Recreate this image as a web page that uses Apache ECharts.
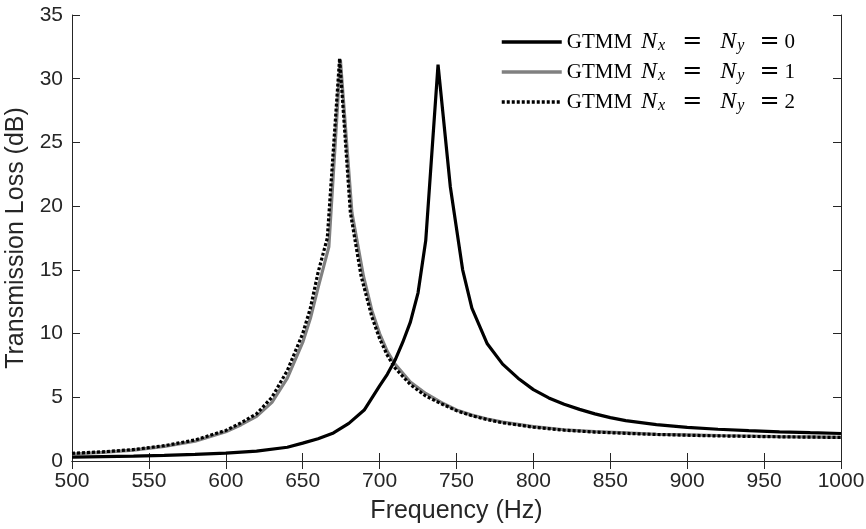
<!DOCTYPE html>
<html>
<head>
<meta charset="utf-8">
<script src="https://cdn.jsdelivr.net/npm/echarts@6/dist/echarts.min.js"></script>
<style>html,body{margin:0;padding:0;background:#fff}#c{width:866px;height:529px}</style>
</head>
<body>
<div id="c"></div>
<script>
// ---- data ----
const seriesNames = ['GTMM N_x = N_y = 0', 'GTMM N_x = N_y = 1', 'GTMM N_x = N_y = 2'];
const xTicks = [500, 550, 600, 650, 700, 750, 800, 850, 900, 950, 1000];
const yTicks = [0, 5, 10, 15, 20, 25, 30, 35];

const freq0 = [500, 520, 540, 560, 580, 600, 620, 640, 650, 660, 670, 680, 690, 700, 705, 710, 715, 720, 725, 730, 738, 746, 754, 760, 770, 780, 790, 800, 810, 820, 830, 840, 850, 860, 880, 900, 920, 940, 960, 980, 1000];
const tl0   = [0.30, 0.34, 0.38, 0.44, 0.52, 0.62, 0.78, 1.08, 1.40, 1.75, 2.20, 2.95, 4.0, 5.9, 6.8, 7.9, 9.3, 10.9, 13.2, 17.3, 31.1, 21.5, 15.0, 12.0, 9.2, 7.6, 6.5, 5.6, 4.95, 4.45, 4.05, 3.7, 3.4, 3.17, 2.86, 2.64, 2.49, 2.38, 2.29, 2.22, 2.16];

const freq1 = [500, 520, 540, 560, 580, 600, 610, 620, 630, 640, 650, 655, 660, 667, 674.5, 682, 689.5, 695, 700, 705, 710, 720, 730, 740, 750, 760, 770, 780, 800, 820, 840, 860, 880, 900, 920, 940, 960, 980, 1000];
const tl1   = [0.55, 0.68, 0.85, 1.15, 1.55, 2.3, 2.85, 3.5, 4.6, 6.5, 9.3, 11.2, 13.6, 16.8, 31.5, 19.5, 14.5, 11.8, 10.0, 8.6, 7.6, 6.2, 5.3, 4.6, 4.0, 3.6, 3.3, 3.05, 2.7, 2.45, 2.3, 2.2, 2.1, 2.05, 2.0, 1.96, 1.92, 1.89, 1.86];

const freq2 = [500, 520, 540, 560, 580, 600, 610, 620, 630, 640, 650, 655, 660, 666, 674, 681, 688, 695, 700, 705, 710, 720, 730, 740, 750, 760, 770, 780, 800, 820, 840, 860, 880, 900, 920, 940, 960, 980, 1000];
const tl2   = [0.60, 0.72, 0.90, 1.2, 1.65, 2.4, 3.0, 3.7, 5.0, 7.1, 10.0, 12.0, 14.8, 17.5, 31.6, 19.5, 14.5, 11.3, 9.6, 8.3, 7.3, 6.0, 5.1, 4.5, 3.95, 3.55, 3.25, 3.0, 2.65, 2.42, 2.27, 2.17, 2.08, 2.02, 1.97, 1.93, 1.90, 1.87, 1.85];

// ---- chart ----
const axisCol = '#262626';
const sans = 'Liberation Sans, Arial, Helvetica, sans-serif';
const serif = 'Liberation Serif, Times New Roman, serif';
const eqFont = 'DejaVu Serif, serif';
const pairs = (f, v) => f.map((x, i) => [x, v[i]]);

const chart = echarts.init(document.getElementById('c'), null, {renderer: 'canvas'});
const common = {
  axisLine: {show: true, lineStyle: {color: axisCol, width: 1}},
  axisTick: {show: true, inside: true, length: 8, lineStyle: {color: axisCol, width: 1}},
  splitLine: {show: false}
};
const plain = v => String(v);
chart.setOption({
  animation: false,
  backgroundColor: '#fff',
  grid: {left: 72, right: 25, top: 15, bottom: 68, containLabel: false, outerBoundsMode: 'none'},
  xAxis: [
    Object.assign({
      type: 'value', min: xTicks[0], max: xTicks[xTicks.length - 1], interval: 50,
      name: 'Frequency (Hz)', nameLocation: 'middle', nameGap: 38,
      nameTextStyle: {fontFamily: sans, fontSize: 25, color: axisCol},
      axisLabel: {fontFamily: sans, fontSize: 21, color: axisCol, margin: 10, formatter: plain}
    }, common),
    Object.assign({
      type: 'value', position: 'top', min: xTicks[0], max: xTicks[xTicks.length - 1], interval: 50,
      axisLabel: {show: false}
    }, common)
  ],
  yAxis: [
    Object.assign({
      type: 'value', min: yTicks[0], max: yTicks[yTicks.length - 1], interval: 5,
      name: 'Transmission Loss (dB)', nameLocation: 'middle', nameGap: 39,
      nameTextStyle: {fontFamily: sans, fontSize: 25, color: axisCol},
      axisLabel: {fontFamily: sans, fontSize: 21, color: axisCol, margin: 9, formatter: plain}
    }, common),
    Object.assign({
      type: 'value', position: 'right', min: yTicks[0], max: yTicks[yTicks.length - 1], interval: 5,
      axisLabel: {show: false}
    }, common)
  ],
  legend: {
    orient: 'vertical', left: 500, top: 30, padding: 0, itemWidth: 60, itemHeight: 14, itemGap: 6,
    data: seriesNames,
    itemStyle: {opacity: 0},
    lineStyle: {width: 3.5},
    formatter: function (name) {
      const k = name.slice(-1);
      return '{g|GTMM}{n|N}{sx|x}{e|=}{m|N}{sy|y}{f|=}{d|' + k + '}';
    },
    textStyle: {
      color: '#000',
      rich: {
        g: {fontFamily: serif, fontSize: 21, color: '#000', lineHeight: 24, verticalAlign: 'middle'},
        n: {fontFamily: serif, fontSize: 24, fontStyle: 'italic', color: '#000', lineHeight: 24, verticalAlign: 'middle', padding: [0, 0, 0, 9]},
        m: {fontFamily: serif, fontSize: 24, fontStyle: 'italic', color: '#000', lineHeight: 24, verticalAlign: 'middle'},
        sx: {fontFamily: serif, fontSize: 16, fontStyle: 'italic', color: '#000', lineHeight: 12, verticalAlign: 'bottom', padding: [0, 17, 0, 1]},
        sy: {fontFamily: serif, fontSize: 16, fontStyle: 'italic', color: '#000', lineHeight: 12, verticalAlign: 'bottom', padding: [0, 15, 0, 1]},
        e: {fontFamily: eqFont, fontSize: 24, color: '#000', lineHeight: 24, verticalAlign: 'middle', padding: [0, 18, 0, 0]},
        f: {fontFamily: eqFont, fontSize: 24, color: '#000', lineHeight: 24, verticalAlign: 'middle', padding: [0, 5, 0, 0]},
        d: {fontFamily: serif, fontSize: 21, color: '#000', lineHeight: 24, verticalAlign: 'middle'}
      }
    }
  },
  series: [
    {name: seriesNames[0], type: 'line', data: pairs(freq0, tl0), showSymbol: false, symbol: 'none', z: 3,
     lineStyle: {color: '#000000', width: 3.2}, itemStyle: {color: '#000000'}},
    {name: seriesNames[1], type: 'line', data: pairs(freq1, tl1), showSymbol: false, symbol: 'none', z: 2,
     lineStyle: {color: '#808080', width: 3.2}, itemStyle: {color: '#808080'}},
    {name: seriesNames[2], type: 'line', data: pairs(freq2, tl2), showSymbol: false, symbol: 'none', z: 4,
     lineStyle: {color: '#000000', width: 3.2, type: [3, 2]}, itemStyle: {color: '#000000'}}
  ]
});
</script>
</body>
</html>
